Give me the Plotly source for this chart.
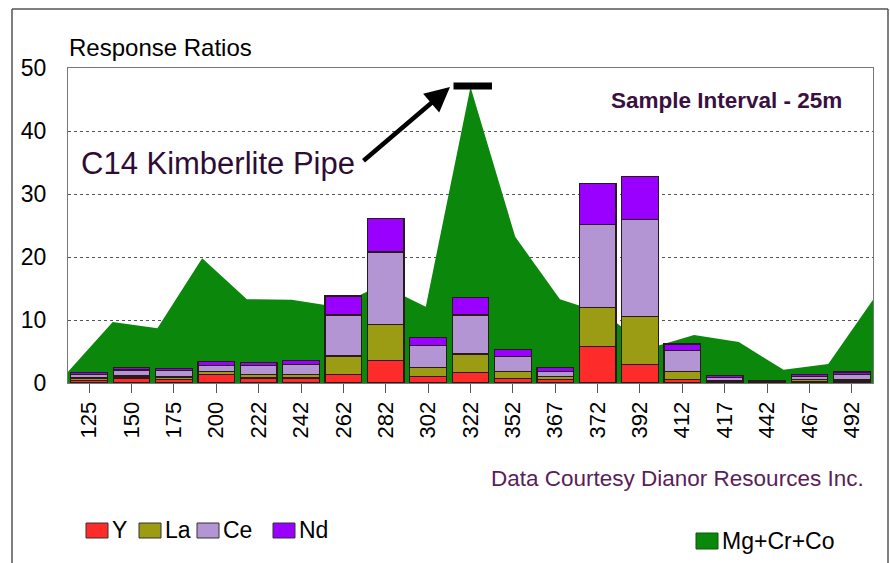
import plotly.graph_objects as go
import numpy as np

categories = ["125", "150", "175", "200", "222", "242", "262", "282", "302", "322",
              "352", "367", "372", "392", "412", "417", "442", "467", "492"]
Y_vals  = [0.42, 0.80, 0.53, 1.32, 0.80, 0.80, 1.3, 3.6, 1.0, 1.7, 0.75, 0.5, 5.8, 3.0, 0.6, 0.2, 0.1, 0.3, 0.32]
La_vals = [0.37, 0.30, 0.42, 0.53, 0.53, 0.53, 3.0, 5.7, 1.5, 2.9, 1.05, 0.5, 6.2, 7.5, 1.2, 0.2, 0.1, 0.2, 0.26]
Ce_vals = [0.53, 0.95, 1.00, 0.90, 1.43, 1.60, 6.5, 11.5, 3.4, 6.2, 2.4, 0.8, 13.1, 15.4, 3.3, 0.45, 0.1, 0.5, 0.79]
Nd_vals = [0.37, 0.42, 0.37, 0.69, 0.53, 0.69, 3.0, 5.3, 1.35, 2.8, 1.1, 0.6, 6.6, 6.9, 1.1, 0.35, 0.1, 0.3, 0.37]
MgCrCo  = [1.8, 9.7, 8.7, 19.8, 13.3, 13.2, 12.1, 15.6, 12.1, 47.0, 23.2, 13.3, 11.0, 5.5, 7.6, 6.5, 2.1, 3.0, 13.2]
y_ticks = [0, 10, 20, 30, 40, 50]

series = [("Y", Y_vals, "#fe2b2b"), ("La", La_vals, "#9c9c14"),
          ("Ce", Ce_vals, "#b495d4"), ("Nd", Nd_vals, "#9a00ff")]
GREEN = "#0b870b"

W, H = 890, 563
L, R, T, B = 68, 17, 68, 180
PW, PH = W - L - R, H - T - B


def px(x):
    return (x - L) / PW


def py(y):
    return (H - B - y) / PH


fig = go.Figure()

# area series on the base (numeric) x axis so it sits beneath the bars
fig.add_trace(go.Scatter(
    x=np.arange(len(MgCrCo)), y=MgCrCo, xaxis="x", yaxis="y",
    mode="lines", line=dict(width=0, color=GREEN), fill="tozeroy",
    fillcolor=GREEN, name="Mg+Cr+Co", showlegend=False, hoverinfo="x+y"))

for name, vals, col in series:
    fig.add_trace(go.Bar(
        x=categories, y=vals, xaxis="x2", yaxis="y", name=name,
        marker=dict(color=col, line=dict(color="#2a1a1a", width=1.2)),
        showlegend=False))

font = "Arial, Liberation Sans, sans-serif"

fig.update_layout(
    width=W, height=H,
    margin=dict(l=L, r=R, t=T, b=B),
    paper_bgcolor="white", plot_bgcolor="white",
    barmode="stack", bargap=0.135,
    font=dict(family=font, color="black"),
    xaxis=dict(range=[0, len(MgCrCo) - 1], showticklabels=False, showgrid=False,
               zeroline=False, showline=False, ticks=""),
    xaxis2=dict(type="category", overlaying="x", side="bottom",
                range=[-0.5, len(categories) - 0.5],
                showline=True, linecolor="#777777", linewidth=1, mirror=True,
                ticks="outside", ticklen=9, tickcolor="#555555",
                tickangle=-90, tickfont=dict(size=22, family=font, color="black"),
                showgrid=False, zeroline=False),
    yaxis=dict(range=[0, 50], tickvals=y_ticks, showline=True, linecolor="#777777",
               linewidth=1, mirror=True, ticks="", ticklabelstandoff=16,
               tickfont=dict(size=23, family=font, color="black"),
               showgrid=True, gridcolor="#555555", griddash="dot", gridwidth=1,
               zeroline=False),
)

shapes = []
# outer frame
for x0, y0, x1, y1 in [(12, 9, 12, H + 5), (12, 9, 888, 9), (888, 9, 888, H + 5)]:
    shapes.append(dict(type="line", xref="paper", yref="paper",
                       x0=px(x0), y0=py(y0), x1=px(x1), y1=py(y1),
                       line=dict(color="#555555", width=1.5)))
# black marker bar at the peak
shapes.append(dict(type="rect", xref="x", yref="y", x0=8.62, x1=9.48, y0=46.6, y1=47.7,
                   fillcolor="black", line=dict(width=0)))

annotations = [
    dict(text="Response Ratios", x=px(67), y=py(47), xref="paper", yref="paper",
         xanchor="left", yanchor="middle", showarrow=False,
         font=dict(size=24, family=font, color="black")),
    dict(text="C14 Kimberlite Pipe", x=px(79), y=py(163), xref="paper", yref="paper",
         xanchor="left", yanchor="middle", showarrow=False,
         font=dict(size=31, family=font, color="#2e0c36")),
    dict(text="<b>Sample Interval - 25m</b>", x=px(844), y=py(100), xref="paper", yref="paper",
         xanchor="right", yanchor="middle", showarrow=False,
         font=dict(size=22.5, family=font, color="#3a1040")),
    dict(text="Data Courtesy Dianor Resources Inc.", x=px(866), y=py(478), xref="paper",
         yref="paper", xanchor="right", yanchor="middle", showarrow=False,
         font=dict(size=22.5, family=font, color="#5a1e58")),
    # arrow pointing at the peak
    dict(text="", x=px(450), y=py(87), xref="paper", yref="paper",
         ax=-88, ay=75, showarrow=True,
         arrowhead=2, arrowsize=1.1, arrowwidth=4.5, arrowcolor="black"),
]

# custom legends
legend_items = [("Y", 86, "#fe2b2b"), ("La", 139, "#9c9c14"),
                ("Ce", 197, "#b495d4"), ("Nd", 273, "#9a00ff")]
for name, x0, col in legend_items:
    shapes.append(dict(type="rect", xref="paper", yref="paper",
                       x0=px(x0), x1=px(x0 + 22), y0=py(523), y1=py(538),
                       fillcolor=col, line=dict(color="#333333", width=1)))
    annotations.append(dict(text=name, x=px(x0 + 24), y=py(530), xref="paper", yref="paper",
                            xanchor="left", yanchor="middle", showarrow=False,
                            font=dict(size=23, family=font, color="black")))
shapes.append(dict(type="rect", xref="paper", yref="paper",
                   x0=px(696), x1=px(718), y0=py(533), y1=py(549),
                   fillcolor=GREEN, line=dict(color="#0a5a0a", width=1)))
annotations.append(dict(text="Mg+Cr+Co", x=px(720), y=py(541), xref="paper", yref="paper",
                        xanchor="left", yanchor="middle", showarrow=False,
                        font=dict(size=23, family=font, color="black")))

fig.update_layout(shapes=shapes, annotations=annotations)

fig.write_html("out.html", config={"displayModeBar": False},
               post_script="document.body.style.margin='0px';")
